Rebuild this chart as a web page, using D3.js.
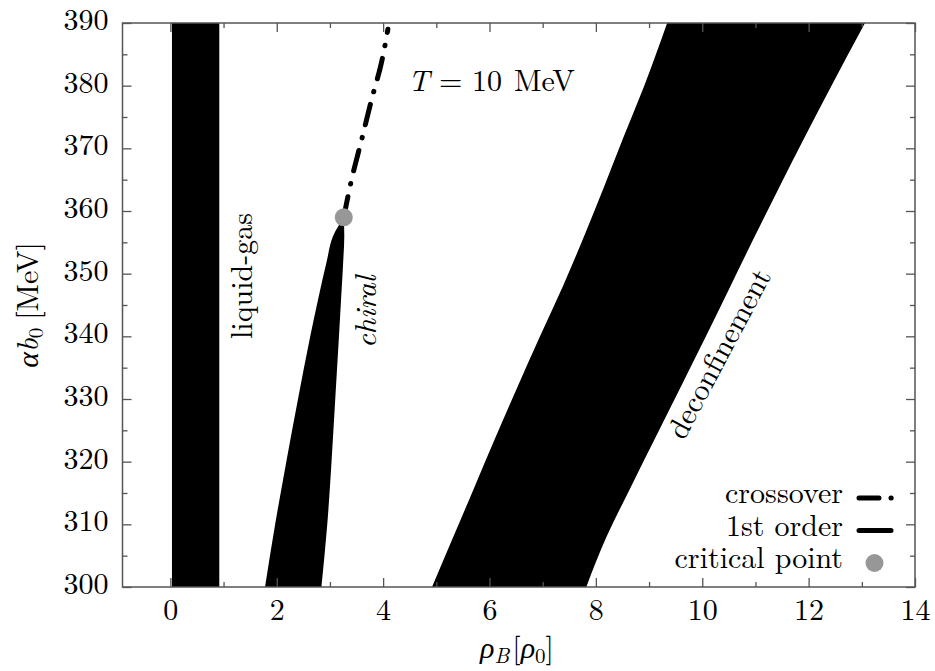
<!DOCTYPE html>
<html>
<head>
<meta charset="utf-8">
<script src="https://cdn.jsdelivr.net/npm/d3@7"></script>
<style>
  html, body { margin: 0; padding: 0; background: #fff; }
  svg { display: block; }
</style>
</head>
<body>
<svg id="chart" width="935" height="671"></svg>
<script>
// Phase-boundary bands at T = 10 MeV: baryon density rho_B (in units of rho_0) vs alpha*b0 (MeV)

// x ticks (rho_B / rho_0) and y ticks (alpha b0, MeV)
const xMajorTicks = [0, 2, 4, 6, 8, 10, 12, 14];
const xMinorTicks = [1, 3, 5, 7, 9, 11, 13];
const yMajorTicks = [300, 310, 320, 330, 340, 350, 360, 370, 380, 390];
const yMinorTicks = [305, 315, 325, 335, 345, 355, 365, 375, 385];

// liquid-gas coexistence band: left/right density edges along alpha b0
const liquidGasY     = [300, 390];
const liquidGasLeft  = [0.03, 0.03];
const liquidGasRight = [0.92, 0.92];

// chiral first-order coexistence region (closes at the critical point)
const chiralY     = [300, 310, 320, 330, 340, 346, 352, 356, 359];
const chiralLeft  = [1.78, 1.97, 2.18, 2.40, 2.63, 2.78, 2.94, 3.06, 3.26];
const chiralRight = [2.84, 2.95, 3.03, 3.10, 3.17, 3.21, 3.25, 3.27, 3.26];

// chiral crossover line above the critical point
const crossoverX = [3.26, 3.42, 3.60, 3.79, 3.95, 4.09];
const crossoverY = [359, 365.5, 371.5, 378, 383, 389];

// critical point
const criticalPoint = [3.26, 359];

// deconfinement band
const deconfY     = [300, 308, 316, 324, 332, 340, 348, 356, 364, 372, 380, 390];
const deconfLeft  = [4.92, 5.32, 5.72, 6.12, 6.53, 6.95, 7.38, 7.78, 8.16, 8.53, 8.91, 9.34];
const deconfRight = [7.82, 8.20, 8.66, 9.13, 9.60, 10.07, 10.53, 10.99, 11.46, 11.94, 12.43, 13.06];

// legend entries
const legendLabels = ["crossover", "1st order", "critical point"];

const W = 935, H = 671;
const margin = { top: 23, right: 20, bottom: 84, left: 122.5 };
const innerW = W - margin.left - margin.right;
const innerH = H - margin.top - margin.bottom;

const FONT_FAMILY = '"Latin Modern Roman", "Liberation Serif", serif';
const FONT = 30;
const AXIS_COLOR = "#555";

const svg = d3.select("#chart");
const g = svg.append("g").attr("transform", `translate(${margin.left},${margin.top})`);

const x = d3.scaleLinear().domain([-0.9, 14]).range([0, innerW]);
const y = d3.scaleLinear().domain([300, 390]).range([innerH, 0]);

function txt(sel, size) {
  return sel.style("font-family", FONT_FAMILY).style("font-size", (size || FONT) + "px").attr("fill", "#000");
}

// clip for the plotting region
svg.append("defs").append("clipPath").attr("id", "plotClip")
  .append("rect").attr("width", innerW).attr("height", innerH);

const plot = g.append("g").attr("clip-path", "url(#plotClip)");

function band(ys, ls, rs) {
  return ys.map((v, i) => ({ y: v, l: ls[i], r: rs[i] }));
}
const areaGen = d3.area()
  .y(d => y(d.y))
  .x0(d => x(d.l))
  .x1(d => x(d.r))
  .curve(d3.curveMonotoneY);

plot.append("path").datum(band(liquidGasY, liquidGasLeft, liquidGasRight))
  .attr("d", areaGen).attr("fill", "#000");
plot.append("path").datum(band(chiralY, chiralLeft, chiralRight))
  .attr("d", areaGen).attr("fill", "#000");
plot.append("path").datum(band(deconfY, deconfLeft, deconfRight))
  .attr("d", areaGen).attr("fill", "#000");

// crossover dash-dot line
const lineGen = d3.line().x(d => x(d[0])).y(d => y(d[1])).curve(d3.curveMonotoneY);
plot.append("path")
  .datum(crossoverX.map((v, i) => [v, crossoverY[i]]))
  .attr("d", lineGen)
  .attr("fill", "none")
  .attr("stroke", "#000")
  .attr("stroke-width", 5)
  .attr("stroke-linecap", "round")
  .attr("stroke-dasharray", "21,13,0.5,13");

// critical point
plot.append("circle")
  .attr("cx", x(criticalPoint[0])).attr("cy", y(criticalPoint[1]))
  .attr("r", 9).attr("fill", "#979797");

// axes with inward ticks on all four sides
function styleAxis(sel) {
  sel.attr("font-family", null).attr("font-size", null);
  sel.select(".domain").remove();
  sel.selectAll(".tick line").attr("stroke", AXIS_COLOR).attr("stroke-width", 1.3);
  txt(sel.selectAll(".tick text"));
}

const major = 9, minor = 5;

g.append("g").attr("transform", `translate(0,${innerH})`)
  .call(d3.axisBottom(x).tickValues(xMajorTicks).tickSize(-major).tickPadding(12).tickFormat(d3.format("d")))
  .call(styleAxis);
g.append("g").attr("transform", `translate(0,${innerH})`)
  .call(d3.axisBottom(x).tickValues(xMinorTicks).tickSize(-minor).tickFormat(""))
  .call(styleAxis);
g.append("g")
  .call(d3.axisTop(x).tickValues(xMajorTicks).tickSize(-major).tickFormat(""))
  .call(styleAxis);
g.append("g")
  .call(d3.axisTop(x).tickValues(xMinorTicks).tickSize(-minor).tickFormat(""))
  .call(styleAxis);

const yAx = g.append("g")
  .call(d3.axisLeft(y).tickValues(yMajorTicks).tickSize(-major).tickPadding(14).tickFormat(d3.format("d")))
  .call(styleAxis);
yAx.selectAll(".tick text").attr("dy", "0.22em");
g.append("g")
  .call(d3.axisLeft(y).tickValues(yMinorTicks).tickSize(-minor).tickFormat(""))
  .call(styleAxis);
g.append("g").attr("transform", `translate(${innerW},0)`)
  .call(d3.axisRight(y).tickValues(yMajorTicks).tickSize(-major).tickFormat(""))
  .call(styleAxis);
g.append("g").attr("transform", `translate(${innerW},0)`)
  .call(d3.axisRight(y).tickValues(yMinorTicks).tickSize(-minor).tickFormat(""))
  .call(styleAxis);

// frame
g.append("rect")
  .attr("width", innerW).attr("height", innerH)
  .attr("fill", "none").attr("stroke", AXIS_COLOR).attr("stroke-width", 1.5);

// axis titles
const xt = txt(svg.append("text"))
  .attr("x", 517).attr("y", 658)
  .attr("text-anchor", "middle");
xt.append("tspan").style("font-style", "italic").text("ρ");
xt.append("tspan").style("font-style", "italic").style("font-size", "21px").attr("dy", 5).text("B");
xt.append("tspan").attr("dy", -5).attr("dx", 3).text("[");
xt.append("tspan").style("font-style", "italic").text("ρ");
xt.append("tspan").style("font-size", "21px").attr("dy", 5).text("0");
xt.append("tspan").attr("dy", -5).text("]");

const yt = txt(svg.append("text"))
  .attr("transform", "translate(38,305) rotate(-90)")
  .attr("text-anchor", "middle");
yt.append("tspan").style("font-style", "italic").text("αb");
yt.append("tspan").style("font-size", "21px").attr("dy", 5).text("0");
yt.append("tspan").attr("dy", -5).attr("dx", 8).text("[MeV]");

// temperature annotation
const tt = txt(svg.append("text")).attr("y", 91);
tt.append("tspan").attr("x", 408).style("font-style", "italic").text("T");
tt.append("tspan").attr("x", 439).text("=");
tt.append("tspan").attr("x", 472).text("10");
tt.append("tspan").attr("x", 514).text("MeV");

// band labels
txt(svg.append("text"))
  .attr("transform", "translate(252,339) rotate(-90)")
  .text("liquid-gas");
txt(svg.append("text"))
  .attr("transform", "translate(376,348) rotate(-90)")
  .style("font-style", "italic")
  .text("chiral");
txt(svg.append("text"))
  .attr("transform", "translate(684,441) rotate(-62)")
  .text("deconfinement");

// legend
const legendX = 843, legendY0 = 503, legendStep = 32.5;
const leg = svg.append("g");
txt(leg.selectAll("text").data(legendLabels).join("text"))
  .attr("x", legendX)
  .attr("y", (d, i) => legendY0 + i * legendStep)
  .attr("text-anchor", "end")
  .text(d => d);

const sampleY = legendLabels.map((d, i) => legendY0 + i * legendStep - 5);
leg.append("line")
  .attr("x1", 859).attr("x2", 891.2).attr("y1", sampleY[0]).attr("y2", sampleY[0])
  .attr("stroke", "#000").attr("stroke-width", 5).attr("stroke-linecap", "round")
  .attr("stroke-dasharray", "20,12,0.2,12");
leg.append("line")
  .attr("x1", 859).attr("x2", 891).attr("y1", sampleY[1]).attr("y2", sampleY[1])
  .attr("stroke", "#000").attr("stroke-width", 5).attr("stroke-linecap", "round");
leg.append("circle")
  .attr("cx", 874.5).attr("cy", sampleY[2]).attr("r", 9).attr("fill", "#979797");
</script>
</body>
</html>
